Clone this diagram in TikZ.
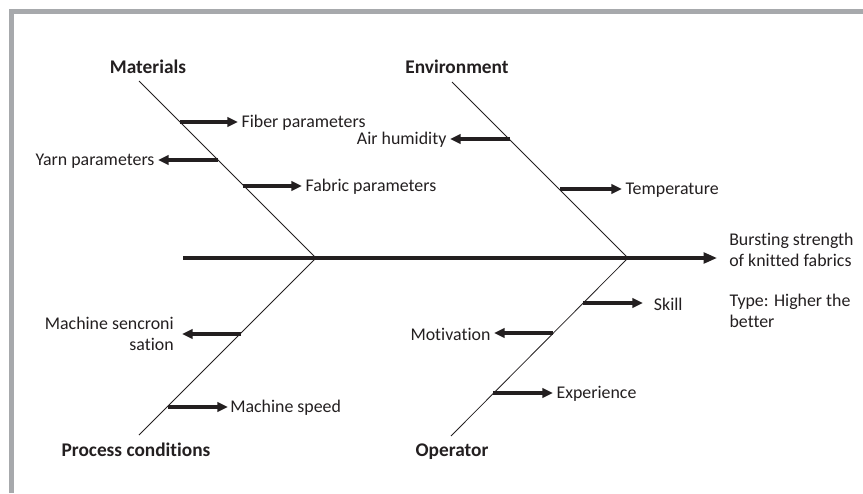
\documentclass[tikz,border=0pt]{standalone}
\usepackage{fontspec}
\setmainfont{Carlito}[Ligatures={NoCommon,NoRare,NoDiscretionary}]
\usepackage{xcolor}
\usetikzlibrary{arrows.meta,positioning}
\definecolor{ink}{RGB}{35,31,32}
\definecolor{framegray}{RGB}{167,169,172}

\begin{document}
\begin{tikzpicture}[x=0.75pt,y=-0.75pt,every node/.append style={align=left,text=ink,font=\fontsize{13.4}{15.8}\selectfont},lbl/.style={inner sep=2.5pt},cat/.style={font=\fontsize{14.5}{17}\selectfont\bfseries},
  bone/.style={draw=ink,line width=0.6pt},twig/.style={draw=ink,line width=2.3pt,-{Triangle[length=8pt,width=7pt]}},
  spine/.style={draw=ink,line width=2.3pt,-{Triangle[length=10pt,width=8pt]}}]
    \useasboundingbox (0,0) rectangle (863,493);
    \draw[framegray, line width=3.75pt] (11.5,493) -- (11.5,11.5) -- (863,11.5);
    % fish bones
    \coordinate (tail) at (183,258);
    \coordinate (mid) at (316,258);
    \coordinate (head) at (628,258);
    \node [cat] (M) at (148,67) {Materials};
    \node [cat] (E) at (457,67) {Environment};
    \node [cat] (P) at (136,450) {Process conditions};
    \node [cat] (O) at (452,452) {Operator};
    \coordinate (M1) at (139,81);
    \coordinate (E1) at (452,82);
    \coordinate (P1) at (139,435);
    \coordinate (O1) at (451,436);
    \path[bone] (M1) -- (mid);
    \path[bone] (E1) -- (head);
    \path[bone] (mid) -- (P1);
    \path[bone] (head) -- (O1);
    \node [lbl, anchor=west, inner xsep=9pt] (Y) at (717,250) {Bursting strength\\of knitted fabrics};
    \node [lbl, anchor=west] (T) at (726,311) {Type: Higher the\\better};
    \path[spine] (tail) -- (tail -| Y.west);
    % causes
    \coordinate (m1) at (180,122);
    \coordinate (m2) at (218,160);
    \coordinate (m3) at (243,186);
    \coordinate (e1) at (510,139);
    \coordinate (e2) at (560,189);
    \coordinate (o1) at (583,303);
    \coordinate (o2) at (553,333);
    \coordinate (o3) at (493,393);
    \coordinate (p1) at (241,334);
    \coordinate (p2) at (168,407);
    \node [lbl, anchor=west] (fiber) at (238,123) {Fiber parameters};
    \node [lbl, anchor=east] (yarn) at (158,161) {Yarn parameters};
    \node [lbl, anchor=west] (fabric) at (302,187) {Fabric parameters};
    \node [lbl, anchor=east] (air) at (450,140) {Air humidity};
    \node [lbl, anchor=west] (temp) at (622,190) {Temperature};
    \node [lbl, anchor=west, inner xsep=8pt] (skill) at (643,304) {Skill};
    \node [lbl, anchor=east] (motiv) at (494,334) {Motivation};
    \node [lbl, anchor=west] (exper) at (553,394) {Experience};
    \node [lbl, anchor=east, align=right, inner xsep=6pt] (sync) at (182,334) {Machine sencroni\\sation};
    \node [lbl, anchor=west, inner xsep=1.5pt] (speed) at (228,408) {Machine speed};
    \path[twig] (m1) -- (m1 -| fiber.west);
    \path[twig] (m2) -- (m2 -| yarn.east);
    \path[twig] (m3) -- (m3 -| fabric.west);
    \path[twig] (e1) -- (e1 -| air.east);
    \path[twig] (e2) -- (e2 -| temp.west);
    \path[twig] (o1) -- (o1 -| skill.west);
    \path[twig] (o2) -- (o2 -| motiv.east);
    \path[twig] (o3) -- (o3 -| exper.west);
    \path[twig] (p1) -- (p1 -| sync.east);
    \path[twig] (p2) -- (p2 -| speed.west);
\end{tikzpicture}
\end{document}
